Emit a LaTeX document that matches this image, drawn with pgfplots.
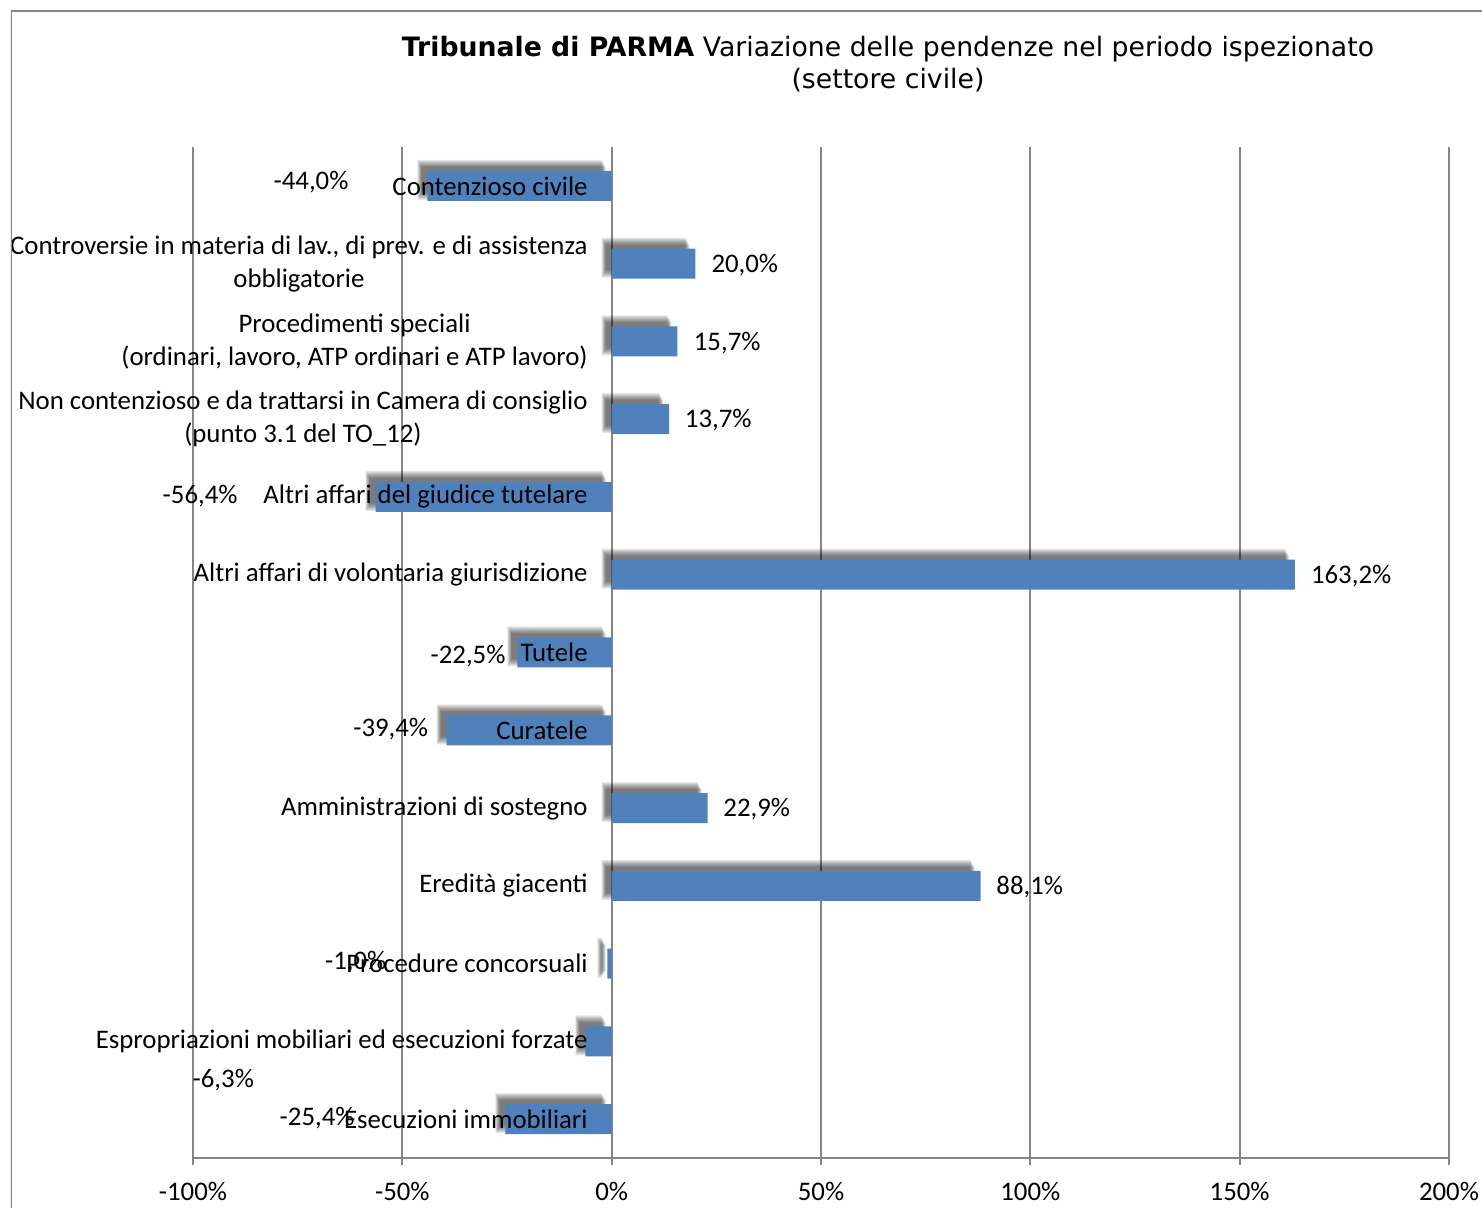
\documentclass[border=0pt]{standalone}
\usepackage{fontspec}
\setmainfont{Carlito}
\newfontfamily\titlefont{DejaVu Sans}
\usepackage{pgfplots}
\usepackage{pgfplotstable}
\pgfplotsset{compat=1.18}

\definecolor{barblue}{HTML}{4F81BD}
\definecolor{gridgray}{HTML}{868686}

\pgfplotsset{
  frame/.style={
    at={(0,0)}, anchor=south west,
    scale only axis,
    width=628pt, height=505.5pt,
    xmin=-100, xmax=200,
    ymin=-0.5, ymax=12.5,
    clip=false,
    font=\fontsize{13.4}{16.5}\selectfont,
    /pgf/number format/assume math mode=true,
  },
  shadowbar/.style 2 args={xbar, bar width=#1, fill=black, fill opacity=0.085,
    draw=none, xshift=#2, yshift=3pt},
}

% idx 12 = top category; dx/dy = label offset from bar end (pt)
\pgfplotstableread{
idx val dx dy
12 -44.0 -58.2 2
11 20.0 24.7 -0.5
10 15.7 24.9 -1
9 13.7 24.6 -0.5
8 -56.4 -87.7 0.5
7 163.2 28.1 -0.5
6 -22.5 -24.7 -2
5 -39.4 -28.0 0.5
4 22.9 24.6 -0.5
3 88.1 24.6 -0.5
2 -1.0 -125.9 0.5
1 -6.3 -181.0 -19.5
0 -25.4 -94.1 0.5
}\pendenze

\begin{document}
\begin{tikzpicture}
\path[use as bounding box] (-96.5pt,-25pt) rectangle (644.5pt,579pt);
\clip (-91pt,-25pt) rectangle (644.5pt,573.5pt);
\begin{axis}[
    frame,
    axis x line*=bottom,
    axis y line*=left,
    y axis line style={draw=none},
    x axis line style={gridgray, line width=1pt},
    xtick={-100,-50,...,200},
    xticklabel={\pgfmathprintnumber{\tick}\%},
    tick align=outside,
    major tick length=3.5pt,
    xtick style={gridgray, line width=1pt},
    ytick=\empty,
    xmajorgrids,
    grid style={gridgray, line width=1pt},
    xticklabel style={yshift=-5pt},
]
% soft shadow behind the bars
\addplot[shadowbar={20pt}{-5pt}] table[x=val, y=idx] {\pendenze};
\addplot[shadowbar={19pt}{-4.7pt}] table[x=val, y=idx] {\pendenze};
\addplot[shadowbar={18pt}{-4.4pt}] table[x=val, y=idx] {\pendenze};
\addplot[shadowbar={17pt}{-4.1pt}] table[x=val, y=idx] {\pendenze};
\addplot[shadowbar={16pt}{-3.8pt}] table[x=val, y=idx] {\pendenze};
\addplot[shadowbar={15pt}{-3.5pt}] table[x=val, y=idx] {\pendenze};
\addplot[shadowbar={14pt}{-3.2pt}] table[x=val, y=idx] {\pendenze};
\addplot[shadowbar={13pt}{-3pt}] table[x=val, y=idx] {\pendenze};
\addplot[
    xbar, bar width=15pt,
    fill=barblue, draw=none,
    point meta=x,
    visualization depends on={\thisrow{dx} \as \dx},
    visualization depends on={\thisrow{dy} \as \dy},
    nodes near coords={\pgfmathprintnumber[fixed, fixed zerofill, precision=1, use comma]{\pgfplotspointmeta}\%},
    nodes near coords style={anchor=center, xshift=\dx pt, yshift=\dy pt, black},
] table[x=val, y=idx] {\pendenze};
\end{axis}
% category names, set above the bars
\begin{axis}[
    frame,
    axis line style={draw=none},
    xtick=\empty,
    ytick={0,...,12},
    ytick style={draw=none},
    yticklabels={
      Esecuzioni immobiliari,
      Espropriazioni mobiliari ed esecuzioni forzate,
      Procedure concorsuali,
      Eredità giacenti,
      Amministrazioni di sostegno,
      Curatele,
      Tutele,
      Altri affari di volontaria giurisdizione,
      Altri affari del giudice tutelare,
      {Non contenzioso e da trattarsi in Camera di consiglio\\(punto 3.1 del TO\_12)},
      {Procedimenti speciali\\(ordinari, lavoro, ATP ordinari e ATP lavoro)},
      {Controversie in materia di lav., di prev. e di assistenza\\obbligatorie},
      Contenzioso civile},
    yticklabel style={align=center, anchor=east, inner sep=0pt, xshift=197.5pt},
]
\end{axis}
\draw[gridgray, line width=1pt] (-91pt,573.5pt) rectangle (660pt,-40pt);
\node[align=center, font=\titlefont\fontsize{13.35}{16}\selectfont] at (347.5pt,547pt)
  {{\bfseries Tribunale di PARMA} Variazione delle pendenze nel periodo ispezionato\\(settore civile)};
\end{tikzpicture}
\end{document}
